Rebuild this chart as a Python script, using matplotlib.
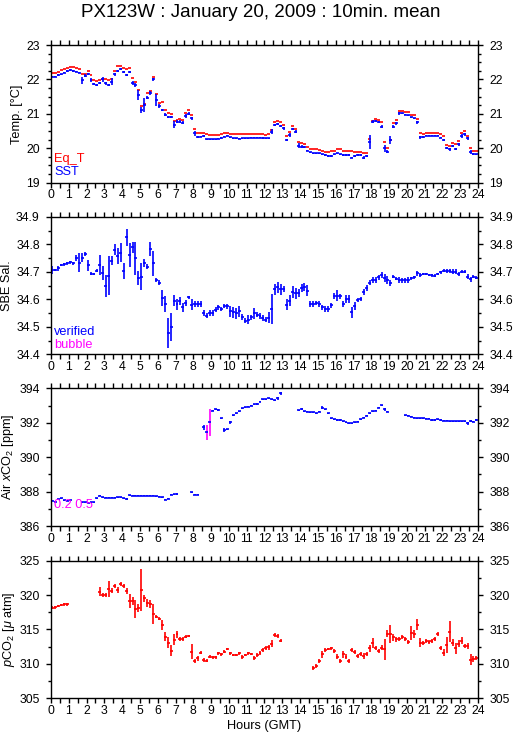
import numpy as np
import matplotlib
matplotlib.use("Agg")
import matplotlib.pyplot as plt
from matplotlib.ticker import MultipleLocator

nan = float("nan")

# 10-minute means, one row per hour (6 values)
eq_t = [
    22.20, 22.20, 22.22, 22.27, 22.30, 22.33,
    22.37, 22.35, 22.32, 22.30, 22.17, 22.17,
    22.25, 22.12, 21.97, 21.95, 21.97, 22.00,
    22.00, 21.98, 22.00, 22.25, 22.38, 22.40,
    22.33, 22.30, 22.32, 22.03, 21.93, 21.68,
    21.24, 21.30, 21.60, 21.67, 22.07, 21.58,
    21.32, 21.35, 21.10, 21.02, 21.00, 20.78,
    20.82, 20.85, 20.82, 21.03, 21.10, 20.97,
    20.57, 20.45, 20.45, 20.43, 20.40, 20.38,
    20.38, 20.38, 20.38, 20.40, 20.44, 20.44,
    20.42, 20.40, 20.40, 20.40, 20.40, 20.40,
    20.42, 20.42, 20.40, 20.42, 20.40, 20.40,
    20.38, 20.40, 20.52, 20.75, 20.80, 20.77,
    20.68, 20.35, 20.48, 20.65, 20.57, 20.18,
    20.15, 20.13, 20.05, 19.97, 19.97, 19.97,
    19.95, 19.92, 19.88, 19.90, 19.92, 19.93,
    19.97, 19.97, 19.92, 19.92, 19.92, 19.92,
    19.88, 19.90, 19.90, 19.87, 19.87, 20.27,
    20.78, 20.85, 20.82, 20.75, 20.17, 20.00,
    20.25, 20.72, 20.82, 21.08, 21.08, 21.06,
    21.05, 20.98, 20.98, 20.85, 20.45, 20.40,
    20.43, 20.45, 20.45, 20.45, 20.45, 20.42,
    20.35, 20.10, 20.08, 20.15, 20.12, 20.20,
    20.45, 20.50, 20.37, 20.02, 19.93, 19.92,
]

sst = [
    22.08, 22.08, 22.13, 22.15, 22.20, 22.24,
    22.27, 22.25, 22.23, 22.20, 21.98, 22.11,
    22.15, 21.98, 21.87, 21.84, 21.89, 22.00,
    21.89, 21.84, 21.93, 22.15, 22.25, 22.29,
    22.22, 22.13, 22.22, 21.89, 21.84, 21.55,
    21.11, 21.26, 21.47, 21.60, 22.00, 21.40,
    21.23, 21.11, 20.97, 20.92, 20.92, 20.68,
    20.77, 20.77, 20.74, 20.94, 21.00, 20.87,
    20.43, 20.34, 20.34, 20.36, 20.26, 20.26,
    20.26, 20.26, 20.28, 20.30, 20.34, 20.37,
    20.32, 20.29, 20.29, 20.28, 20.29, 20.29,
    20.29, 20.31, 20.31, 20.31, 20.31, 20.30,
    20.29, 20.29, 20.48, 20.68, 20.70, 20.66,
    20.58, 20.24, 20.38, 20.56, 20.48, 20.07,
    20.05, 20.05, 19.93, 19.88, 19.85, 19.85,
    19.85, 19.82, 19.80, 19.78, 19.78, 19.82,
    19.85, 19.82, 19.80, 19.80, 19.80, 19.73,
    19.78, 19.80, 19.80, 19.73, 19.78, 20.19,
    20.77, 20.80, 20.77, 20.63, 20.00, 19.90,
    20.24, 20.63, 20.72, 21.01, 21.01, 20.98,
    20.96, 20.90, 20.87, 20.75, 20.32, 20.33,
    20.37, 20.37, 20.37, 20.37, 20.37, 20.31,
    20.24, 20.00, 19.97, 20.07, 19.97, 20.12,
    20.36, 20.40, 20.29, 19.90, 19.83, 19.82,
]

sst_std = [
    .02, .02, .02, .02, .02, .02,
    .02, .02, .02, .02, .10, .04,
    .03, .06, .04, .03, .03, .08,
    .04, .04, .10, .04, .03, .03,
    .03, .03, .03, .06, .05, .15,
    .08, .20, .05, .05, .05, .18,
    .05, .04, .04, .03, .03, .10,
    .05, .04, .04, .05, .04, .05,
    .06, .03, .02, .02, .02, .02,
    .02, .02, .02, .02, .02, .02,
    .02, .02, .02, .02, .02, .02,
    .02, .02, .02, .02, .02, .02,
    .02, .02, .08, .03, .02, .03,
    .04, .03, .06, .04, .05, .07,
    .04, .03, .02, .02, .02, .02,
    .02, .02, .02, .02, .02, .02,
    .02, .02, .02, .02, .02, .02,
    .02, .02, .02, .05, .03, .20,
    .04, .03, .03, .04, .10, .05,
    .13, .05, .04, .03, .02, .02,
    .02, .02, .02, .04, .05, .03,
    .02, .02, .02, .02, .02, .02,
    .03, .03, .04, .03, .03, .04,
    .05, .03, .04, .06, .03, .02,
]

sal = [
    34.707, 34.707, 34.713, 34.725, 34.728, 34.731,
    34.735, 34.731, 34.750, 34.733, 34.752, 34.765,
    34.725, 34.693, 34.692, 34.704, 34.725, 34.695,
    34.650, 34.686, 34.741, 34.780, 34.758, 34.770,
    34.704, 34.825, 34.761, 34.789, 34.750, 34.677,
    34.683, 34.733, 34.719, 34.782, 34.731, 34.671,
    34.661, 34.605, 34.583, 34.478, 34.500, 34.595,
    34.583, 34.595, 34.571, 34.587, 34.608, 34.581,
    34.583, 34.583, 34.583, 34.550, 34.541, 34.550,
    34.550, 34.563, 34.571, 34.565, 34.577, 34.575,
    34.557, 34.553, 34.550, 34.557, 34.536, 34.523,
    34.527, 34.535, 34.550, 34.545, 34.539, 34.533,
    34.527, 34.533, 34.565, 34.637, 34.645, 34.637,
    34.637, 34.581, 34.595, 34.627, 34.623, 34.623,
    34.641, 34.645, 34.631, 34.583, 34.583, 34.587,
    34.583, 34.571, 34.565, 34.565, 34.578, 34.613,
    34.613, 34.611, 34.583, 34.601, 34.601, 34.553,
    34.575, 34.599, 34.601, 34.627, 34.641, 34.661,
    34.671, 34.671, 34.680, 34.689, 34.677, 34.671,
    34.659, 34.683, 34.675, 34.671, 34.669, 34.669,
    34.671, 34.677, 34.681, 34.695, 34.689, 34.692,
    34.692, 34.689, 34.687, 34.686, 34.692, 34.698,
    34.705, 34.704, 34.704, 34.701, 34.701, 34.693,
    34.701, 34.701, 34.683, 34.673, 34.683, 34.679,
]

sal_std = [
    .015, .005, .008, .005, .005, .005,
    .005, .005, .010, .035, .015, .008,
    .020, .005, .005, .005, .035, .025,
    .040, .070, .015, .020, .030, .035,
    .030, .030, .045, .020, .060, .025,
    .050, .015, .008, .025, .045, .008,
    .008, .030, .030, .055, .050, .020,
    .020, .015, .015, .010, .005, .020,
    .010, .010, .010, .010, .010, .010,
    .010, .008, .010, .008, .008, .008,
    .020, .020, .020, .020, .010, .010,
    .015, .008, .020, .010, .010, .010,
    .010, .020, .055, .020, .020, .020,
    .010, .020, .020, .020, .020, .015,
    .015, .015, .020, .010, .010, .008,
    .010, .008, .010, .010, .010, .010,
    .020, .008, .010, .015, .015, .020,
    .015, .008, .008, .010, .010, .010,
    .010, .010, .010, .010, .015, .015,
    .010, .005, .005, .010, .010, .010,
    .010, .005, .005, .010, .008, .005,
    .005, .005, .005, .005, .005, .005,
    .005, .008, .008, .008, .008, .008,
    .005, .005, .010, .008, .005, .005,
]

xco2 = [
    387.47, 387.42, 387.55, 387.60, 387.50, 387.47,
    387.50, nan, nan, nan, 387.37, 387.37,
    387.35, 387.37, 387.37, 387.62, 387.77, 387.68,
    387.65, 387.63, 387.63, 387.63, 387.66, 387.66,
    387.60, 387.57, 387.80, 387.76, 387.75, 387.75,
    387.75, 387.75, 387.75, 387.75, 387.75, 387.72,
    387.70, 387.66, 387.52, 387.58, 387.82, 387.84,
    387.86, nan, nan, nan, nan, 387.97,
    387.82, 387.82, nan, 391.73, 391.44, 392.02,
    392.70, 392.78, 392.74, 392.26, 391.58, 391.62,
    392.02, 392.43, 392.55, 392.68, 392.84, 392.90,
    392.93, 392.99, 393.07, 393.09, 393.22, 393.36,
    393.36, 393.42, 393.36, 393.32, 393.42, 393.71,
    nan, nan, nan, nan, nan, 392.74,
    392.80, 392.68, 392.64, 392.60, 392.60, 392.55,
    392.64, 392.88, 392.78, 392.55, 392.26, 392.20,
    392.16, 392.16, 392.10, 392.02, 391.96, 391.96,
    392.02, 392.06, 392.20, 392.29, 392.41, 392.55,
    392.68, 392.70, 392.88, 393.01, 392.78, 392.64,
    nan, nan, nan, nan, nan, 392.45,
    392.41, 392.35, 392.29, 392.26, 392.26, 392.26,
    392.22, 392.22, 392.16, 392.16, 392.20, 392.16,
    392.12, 392.12, 392.10, 392.10, 392.10, 392.10,
    392.10, 392.10, 391.96, 392.10, 392.06, 392.16,
]

xco2_std = [
    .03, .03, .03, .03, .03, .03,
    .03, .03, .03, .03, .03, .03,
    .03, .03, .03, .03, .03, .03,
    .03, .03, .03, .03, .03, .03,
    .03, .05, .03, .03, .03, .03,
    .03, .03, .03, .03, .03, .03,
    .03, .03, .03, .03, .03, .03,
    .03, .03, .03, .03, .03, .03,
    .03, .03, .03, .15, .43, .80,
    .03, .03, .08, .03, .10, .03,
    .10, .03, .03, .03, .03, .03,
    .03, .03, .03, .03, .03, .03,
    .03, .03, .03, .03, .10, .10,
    .03, .03, .03, .03, .03, .03,
    .03, .03, .03, .03, .03, .03,
    .03, .10, .03, .03, .03, .03,
    .03, .03, .03, .03, .03, .03,
    .03, .03, .03, .03, .03, .03,
    .03, .03, .03, .03, .08, .03,
    .03, .03, .03, .03, .03, .03,
    .03, .03, .03, .03, .03, .03,
    .03, .03, .03, .03, .03, .03,
    .03, .03, .03, .03, .03, .03,
    .03, .03, .08, .08, .03, .03,
]

# 10-min bins whose spread is flagged as bubble (magenta)
bubble_bins = [52, 53]

pco2 = [
    318.17, 318.22, 318.41, 318.56, 318.66, 318.66,
    nan, nan, nan, nan, nan, nan,
    nan, nan, nan, nan, 320.50, 320.01,
    320.01, 320.88, 320.64, 321.37, 320.74, 321.56,
    321.32, 320.59, 319.14, 319.14, 317.98, 318.08,
    320.74, 319.53, 318.80, 318.66, 317.25, 316.86,
    316.57, 315.65, 313.96, 313.09, 311.92, 313.47,
    314.30, 313.57, 313.57, 313.96, 314.06, 311.78,
    310.42, 310.81, 311.63, 310.57, 310.47, 311.05,
    310.96, 310.96, 311.54, 311.39, 311.78, 312.17,
    311.54, 311.30, 311.30, 311.54, 311.05, 311.30,
    311.54, 311.44, 310.85, 311.30, 311.60, 312.00,
    312.36, 312.41, 312.90, 314.20, 314.06, 313.38,
    nan, nan, nan, nan, nan, nan,
    nan, nan, nan, nan, 309.45, 309.75,
    310.47, 311.39, 312.02, 312.17, 312.26, 311.88,
    311.05, 310.42, 311.39, 311.05, 310.47, 312.02,
    311.78, 311.20, 311.44, 311.15, 311.44, 312.26,
    312.99, 312.26, 311.92, 312.36, 312.12, 314.35,
    314.35, 313.86, 313.57, 313.57, 313.86, 313.62,
    313.23, 314.44, 314.30, 315.65, 313.09, 312.99,
    313.38, 313.14, 313.38, 313.62, 314.30, 312.26,
    311.63, 312.75, 314.69, 313.09, 312.26, 312.90,
    313.38, 312.60, 312.60, 310.57, 310.67, 310.91,
]

pco2_std = [
    .2, .2, .2, .2, .2, .2,
    .2, .2, .2, .2, .2, .2,
    .2, .2, .2, .2, .6, .3,
    .3, 1.2, .4, .3, .4, .3,
    .3, .4, 1.0, .6, 1.3, .6,
    3.0, .5, .6, .6, 1.4, .2,
    .2, .7, .6, .8, .8, .8,
    .5, .3, .3, .2, .2, 1.1,
    .3, .4, .2, .3, .2, .2,
    .2, .2, .2, .2, .2, .2,
    .2, .2, .2, .2, .3, .2,
    .2, .2, .3, .3, .3, .3,
    .3, .4, .5, .3, .3, .2,
    .2, .2, .2, .2, .2, .2,
    .2, .2, .2, .2, .3, .3,
    .3, .5, .3, .2, .2, .3,
    .4, .3, .5, .4, .3, .3,
    .3, .3, .3, .4, .3, .5,
    .7, .3, .3, .4, 1.5, .5,
    1.3, .5, .4, .3, .3, .3,
    .3, 1.0, .6, .8, .6, .3,
    .3, .3, .3, .3, .3, .3,
    .5, 1.2, 1.5, .5, .8, .5,
    .5, .3, .5, .8, .4, .3,
]

BIN_MIN = 10
hours = (np.arange(len(sst)) + 0.5) * BIN_MIN / 60
half = BIN_MIN / 120

LW = 1.2
BLUE, RED, MAGENTA = "#0000ff", "#ff0000", "#ff00ff"

plt.rcParams["font.family"] = ["Liberation Sans", "DejaVu Sans"]
plt.rcParams["mathtext.fontset"] = "custom"
plt.rcParams["mathtext.rm"] = "Liberation Sans"
plt.rcParams["mathtext.it"] = "Liberation Sans:italic"


def crosses(ax, y, err, color):
    ax.errorbar(hours, y, xerr=half, yerr=err, fmt="none", ecolor=color,
                elinewidth=LW, capsize=0)


def style_axis(ax, ylim, major, minor, ylabel, last=False):
    ax.set_xlim(0, 24)
    ax.set_ylim(*ylim)
    ax.xaxis.set_major_locator(MultipleLocator(1))
    ax.xaxis.set_minor_locator(MultipleLocator(0.5))
    ax.yaxis.set_major_locator(MultipleLocator(major))
    ax.yaxis.set_minor_locator(MultipleLocator(minor))
    ax.tick_params(which="both", direction="out", top=True, right=True,
                   labelright=True, width=1.0, labelsize=8.8)
    ax.tick_params(axis="y", which="major", length=3.6, pad=4.5)
    ax.tick_params(axis="y", which="minor", length=2.0)
    ax.tick_params(axis="x", which="both", length=3.4, pad=1.5)
    for s in ax.spines.values():
        s.set_linewidth(1.0)
    ax.set_ylabel(ylabel, fontsize=9.2, labelpad=2)
    if last:
        ax.set_xlabel("Hours (GMT)", fontsize=9.2, labelpad=2)


fig = plt.figure(figsize=(5.15, 7.39), dpi=100)
left, width, height = 0.099, 0.829, 0.1863
bottoms = [0.7528, 0.5203, 0.2882, 0.0551]
axes = [fig.add_axes([left, b, width, height]) for b in bottoms]

# Temperature
ax = axes[0]
ax.hlines(eq_t, hours - half, hours + half, colors=RED, lw=LW)
crosses(ax, sst, sst_std, BLUE)
style_axis(ax, (19, 23), 1, 0.25, "Temp. [°C]")
ax.text(0.008, 0.17, "Eq_T", color=RED, fontsize=9.2, transform=ax.transAxes, va="center")
ax.text(0.008, 0.075, "SST", color=BLUE, fontsize=9.2, transform=ax.transAxes, va="center")

# Salinity
ax = axes[1]
crosses(ax, sal, sal_std, BLUE)
style_axis(ax, (34.4, 34.9), 0.1, 0.05, "SBE Sal.")
ax.text(0.008, 0.165, "verified", color=BLUE, fontsize=9.2, transform=ax.transAxes, va="center")
ax.text(0.008, 0.07, "bubble", color=MAGENTA, fontsize=9.2, transform=ax.transAxes, va="center")

# Air xCO2
ax = axes[2]
xco2_arr = np.array(xco2)
std_arr = np.array(xco2_std)
ok = np.ones(len(xco2_arr), bool)
ok[bubble_bins] = False
ax.errorbar(hours[ok], xco2_arr[ok], xerr=half, yerr=std_arr[ok], fmt="none",
            ecolor=BLUE, elinewidth=LW, capsize=0)
ax.errorbar(hours[~ok], xco2_arr[~ok], yerr=std_arr[~ok], fmt="none",
            ecolor=MAGENTA, elinewidth=LW, capsize=0)
ax.errorbar(hours[~ok], xco2_arr[~ok], xerr=half, fmt="none",
            ecolor=BLUE, elinewidth=LW, capsize=0)
style_axis(ax, (386, 394), 2, 1, r"Air $x$CO$_2$ [ppm]")
ax.text(0.006, 0.155, "0.2 0.5", color=MAGENTA, fontsize=9.2, transform=ax.transAxes, va="center")

# pCO2
ax = axes[3]
crosses(ax, pco2, pco2_std, RED)
style_axis(ax, (305, 325), 5, 2.5, r"$p$CO$_2$ [$\mu$ atm]", last=True)

fig.text(0.507, 0.983, "PX123W : January 20, 2009 : 10min. mean",
         ha="center", va="center", fontsize=13.5)

fig.savefig("out.png", dpi=100)
